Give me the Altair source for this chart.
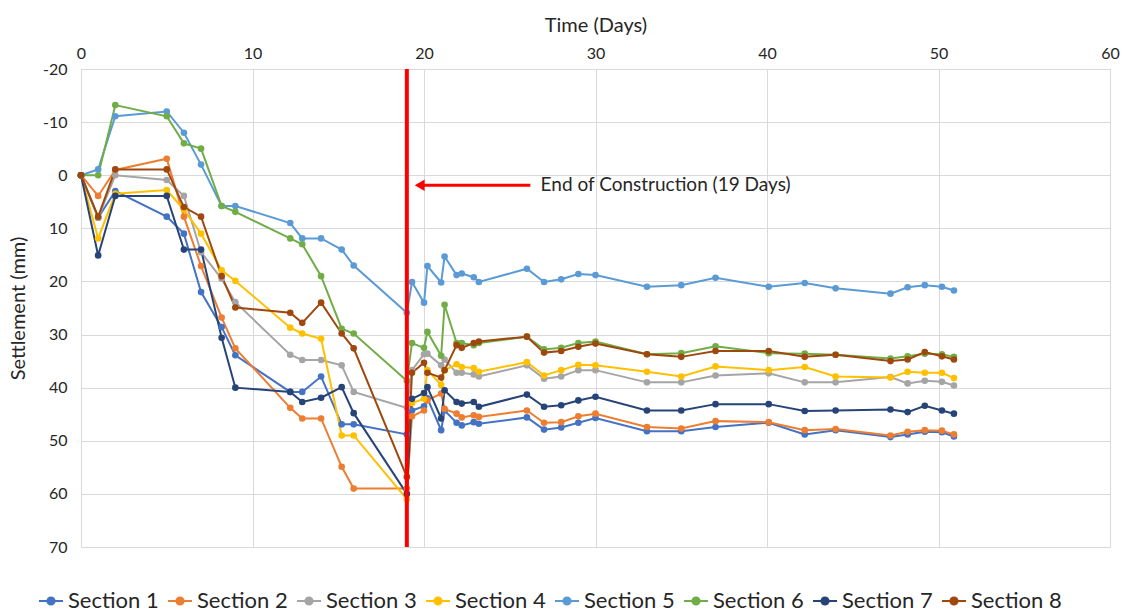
import altair as alt
import pandas as pd

days = [0, 1, 2, 5, 6, 7, 8.2, 9, 12.2, 12.9, 14, 15.2, 15.9, 19,
        19.3, 20, 20.2, 21, 21.2, 21.9, 22.2, 22.9, 23.2, 26, 27, 28, 29, 30,
        33, 35, 37, 40.1, 42.2, 44, 47.2, 48.2, 49.2, 50.2, 50.9]

section_1 = [0, 8, 3, 7.8, 11, 22, 28.6, 33.9, 40.8, 40.8, 37.9, 46.9, 46.9, 48.8,
             44.3, 43.5, 42, 48, 44.3, 46.6, 47.1, 46.5, 46.8, 45.6, 47.9, 47.5, 46.6, 45.7,
             48.2, 48.2, 47.4, 46.6, 48.8, 48.0, 49.3, 48.8, 48.3, 48.4, 49.2]
section_2 = [0, 3.9, -1, -3.1, 7.8, 17.1, 26.8, 32.6, 43.8, 45.8, 45.8, 54.9, 59.0, 59.0,
             45.4, 44.3, 42.4, 41.1, 44, 44.9, 45.6, 45.2, 45.5, 44.3, 46.6, 46.5, 45.4, 44.9,
             47.4, 47.7, 46.3, 46.5, 48.0, 47.8, 49.0, 48.3, 48.0, 48.1, 48.8]
section_3 = [0, 8, 0, 0.9, 3.9, 14.5, 19.5, 23.9, 33.8, 34.8, 34.8, 35.8, 40.8, 43.8,
             36.7, 33.7, 33.6, 35.8, 34.7, 37.2, 37.2, 37.5, 37.9, 35.8, 38.3, 37.9, 36.7, 36.7,
             39.0, 39.0, 37.7, 37.3, 39.0, 39.0, 38.0, 39.2, 38.7, 38.9, 39.6]
section_4 = [0, 11.9, 3.5, 2.8, 6.5, 11.0, 17.9, 19.9, 28.7, 29.8, 30.8, 49.0, 49.0, 61.0,
             42.9, 42.1, 36.7, 39.5, 36.7, 35.6, 36.1, 36.3, 37.0, 35.2, 37.7, 36.7, 35.7, 35.8,
             37.0, 37.9, 36.0, 36.7, 36.1, 37.9, 38.1, 37.0, 37.2, 37.2, 38.2]
section_5 = [0, -1.1, -11.1, -12.0, -8.0, -2.0, 5.8, 5.8, 9.0, 11.9, 11.9, 14.0, 17.0, 25.9,
             20.1, 24.0, 17.1, 20.2, 15.3, 18.8, 18.5, 19.2, 20.1, 17.6, 20.1, 19.6, 18.6, 18.8,
             21.0, 20.7, 19.3, 21.0, 20.3, 21.3, 22.3, 21.1, 20.7, 21.0, 21.7]
section_6 = [0, 0, -13.2, -11.1, -6.0, -5.0, 5.8, 6.9, 11.9, 13.0, 19.0, 28.9, 29.8, 38.7,
             31.6, 32.5, 29.5, 34.0, 24.4, 31.6, 31.6, 32.0, 31.6, 30.4, 32.8, 32.5, 31.6, 31.3,
             33.7, 33.5, 32.2, 33.5, 33.6, 33.8, 34.5, 34.1, 33.6, 33.7, 34.2]
section_7 = [0, 15.1, 3.9, 3.9, 14.0, 14.0, 30.6, 40.0, 40.8, 42.7, 41.9, 39.9, 44.8, 60.0,
             42.1, 41.0, 39.9, 45.8, 40.5, 42.7, 43.0, 42.7, 43.6, 41.3, 43.6, 43.3, 42.4, 41.7,
             44.3, 44.3, 43.1, 43.1, 44.4, 44.3, 44.1, 44.6, 43.4, 44.3, 44.9]
section_8 = [0, 7.8, -1.1, -1.1, 6.0, 7.8, 19.0, 24.9, 25.9, 27.8, 24.0, 29.8, 32.6, 56.8,
             37.2, 35.3, 37.2, 38.1, 36.7, 32.0, 32.5, 31.6, 31.3, 30.4, 33.4, 33.1, 32.3, 31.7,
             33.7, 34.2, 33.1, 33.1, 34.2, 33.8, 35.0, 34.7, 33.3, 34.1, 34.7]

series_names = ["Section 1", "Section 2", "Section 3", "Section 4",
                "Section 5", "Section 6", "Section 7", "Section 8"]
series_values = [section_1, section_2, section_3, section_4,
                 section_5, section_6, section_7, section_8]
series_colors = ["#4472C4", "#ED7D31", "#A5A5A5", "#FFC000",
                 "#5B9BD5", "#70AD47", "#264478", "#9E480E"]

x_ticks = [0, 10, 20, 30, 40, 50, 60]
y_ticks = [-20, -10, 0, 10, 20, 30, 40, 50, 60, 70]

construction_day = 19
annotation_text = "End of Construction (19 Days)"

rows = []
for order, (name, vals) in enumerate(zip(series_names, series_values)):
    for d, v in zip(days, vals):
        rows.append({"Day": d, "Settlement": v, "Series": name, "order": order})
df = pd.DataFrame(rows)

FONT = "Lato"

x_scale = alt.Scale(domain=[0, 60], nice=False, zero=False)
y_scale = alt.Scale(domain=[-20, 70], nice=False, reverse=True, zero=False)

legend_path = "M-1,0H1M-0.3,0A0.3,0.3,0,1,0,0.3,0A0.3,0.3,0,1,0,-0.3,0Z"

color = alt.Color(
    "Series:N",
    scale=alt.Scale(domain=series_names, range=series_colors),
    legend=alt.Legend(
        title=None, orient="none", direction="horizontal", columns=8,
        legendX=-43, legendY=519,
        symbolType=legend_path, symbolSize=576, symbolStrokeWidth=2,
        labelFont=FONT, labelFontSize=22, labelColor="#262626",
        columnPadding=5, labelOffset=4, symbolOffset=0,
    ),
)

base = alt.Chart(df)

lines = base.mark_line(strokeWidth=2).encode(
    x=alt.X("Day:Q", scale=x_scale,
            axis=alt.Axis(orient="top", values=x_ticks, title="Time (Days)",
                          titleFont=FONT, titleFontSize=20, titleFontWeight="normal",
                          titleColor="#262626", titlePadding=10,
                          labelFont=FONT, labelFontSize=16, labelColor="#262626",
                          labelPadding=8, domain=False, ticks=False,
                          grid=True, gridColor="#d9d9d9", labelFlush=False)),
    y=alt.Y("Settlement:Q", scale=y_scale,
            axis=alt.Axis(values=y_ticks, title="Settlement (mm)",
                          titleFont=FONT, titleFontSize=20, titleFontWeight="normal",
                          titleColor="#262626", titlePadding=14,
                          labelFont=FONT, labelFontSize=16, labelColor="#262626",
                          labelPadding=14, domain=False, ticks=False,
                          grid=True, gridColor="#d9d9d9",
                          labelExpr="'' + datum.value")),
    color=color,
    order=alt.Order("Day:Q"),
    detail="Series:N",
)

points = base.mark_point(filled=True, size=44, opacity=1).encode(
    x=alt.X("Day:Q", scale=x_scale),
    y=alt.Y("Settlement:Q", scale=y_scale),
    color=alt.Color("Series:N", scale=alt.Scale(domain=series_names, range=series_colors), legend=None),
)

ann = pd.DataFrame({"x": [construction_day], "ax1": [26.2], "ax2": [19.9],
                    "ay": [1.9], "hx": [19.75], "tx": [26.8], "label": [annotation_text]})

red_line = alt.Chart(ann).mark_rule(color="#FF0000", strokeWidth=4).encode(
    x=alt.X("x:Q", scale=x_scale))

arrow_shaft = alt.Chart(ann).mark_rule(color="#FF0000", strokeWidth=3).encode(
    x=alt.X("ax1:Q", scale=x_scale), x2="ax2:Q",
    y=alt.Y("ay:Q", scale=y_scale))

arrow_head = alt.Chart(ann).mark_point(shape="triangle-left", filled=True,
                                        color="#FF0000", size=130, opacity=1).encode(
    x=alt.X("hx:Q", scale=x_scale), y=alt.Y("ay:Q", scale=y_scale))

label = alt.Chart(ann).mark_text(align="left", baseline="middle", font=FONT,
                                 fontSize=19, color="#262626").encode(
    x=alt.X("tx:Q", scale=x_scale), y=alt.Y("ay:Q", scale=y_scale), text="label:N")

chart = alt.layer(lines, points, red_line, arrow_shaft, arrow_head, label).properties(
    width=1029, height=478,
    autosize=alt.AutoSizeParams(type="none"),
    padding={"left": 81, "top": 69, "right": 16, "bottom": 68},
    background="white",
).configure_view(stroke=None)

chart.save("out.html", embed_options={"renderer": "svg", "actions": False})
